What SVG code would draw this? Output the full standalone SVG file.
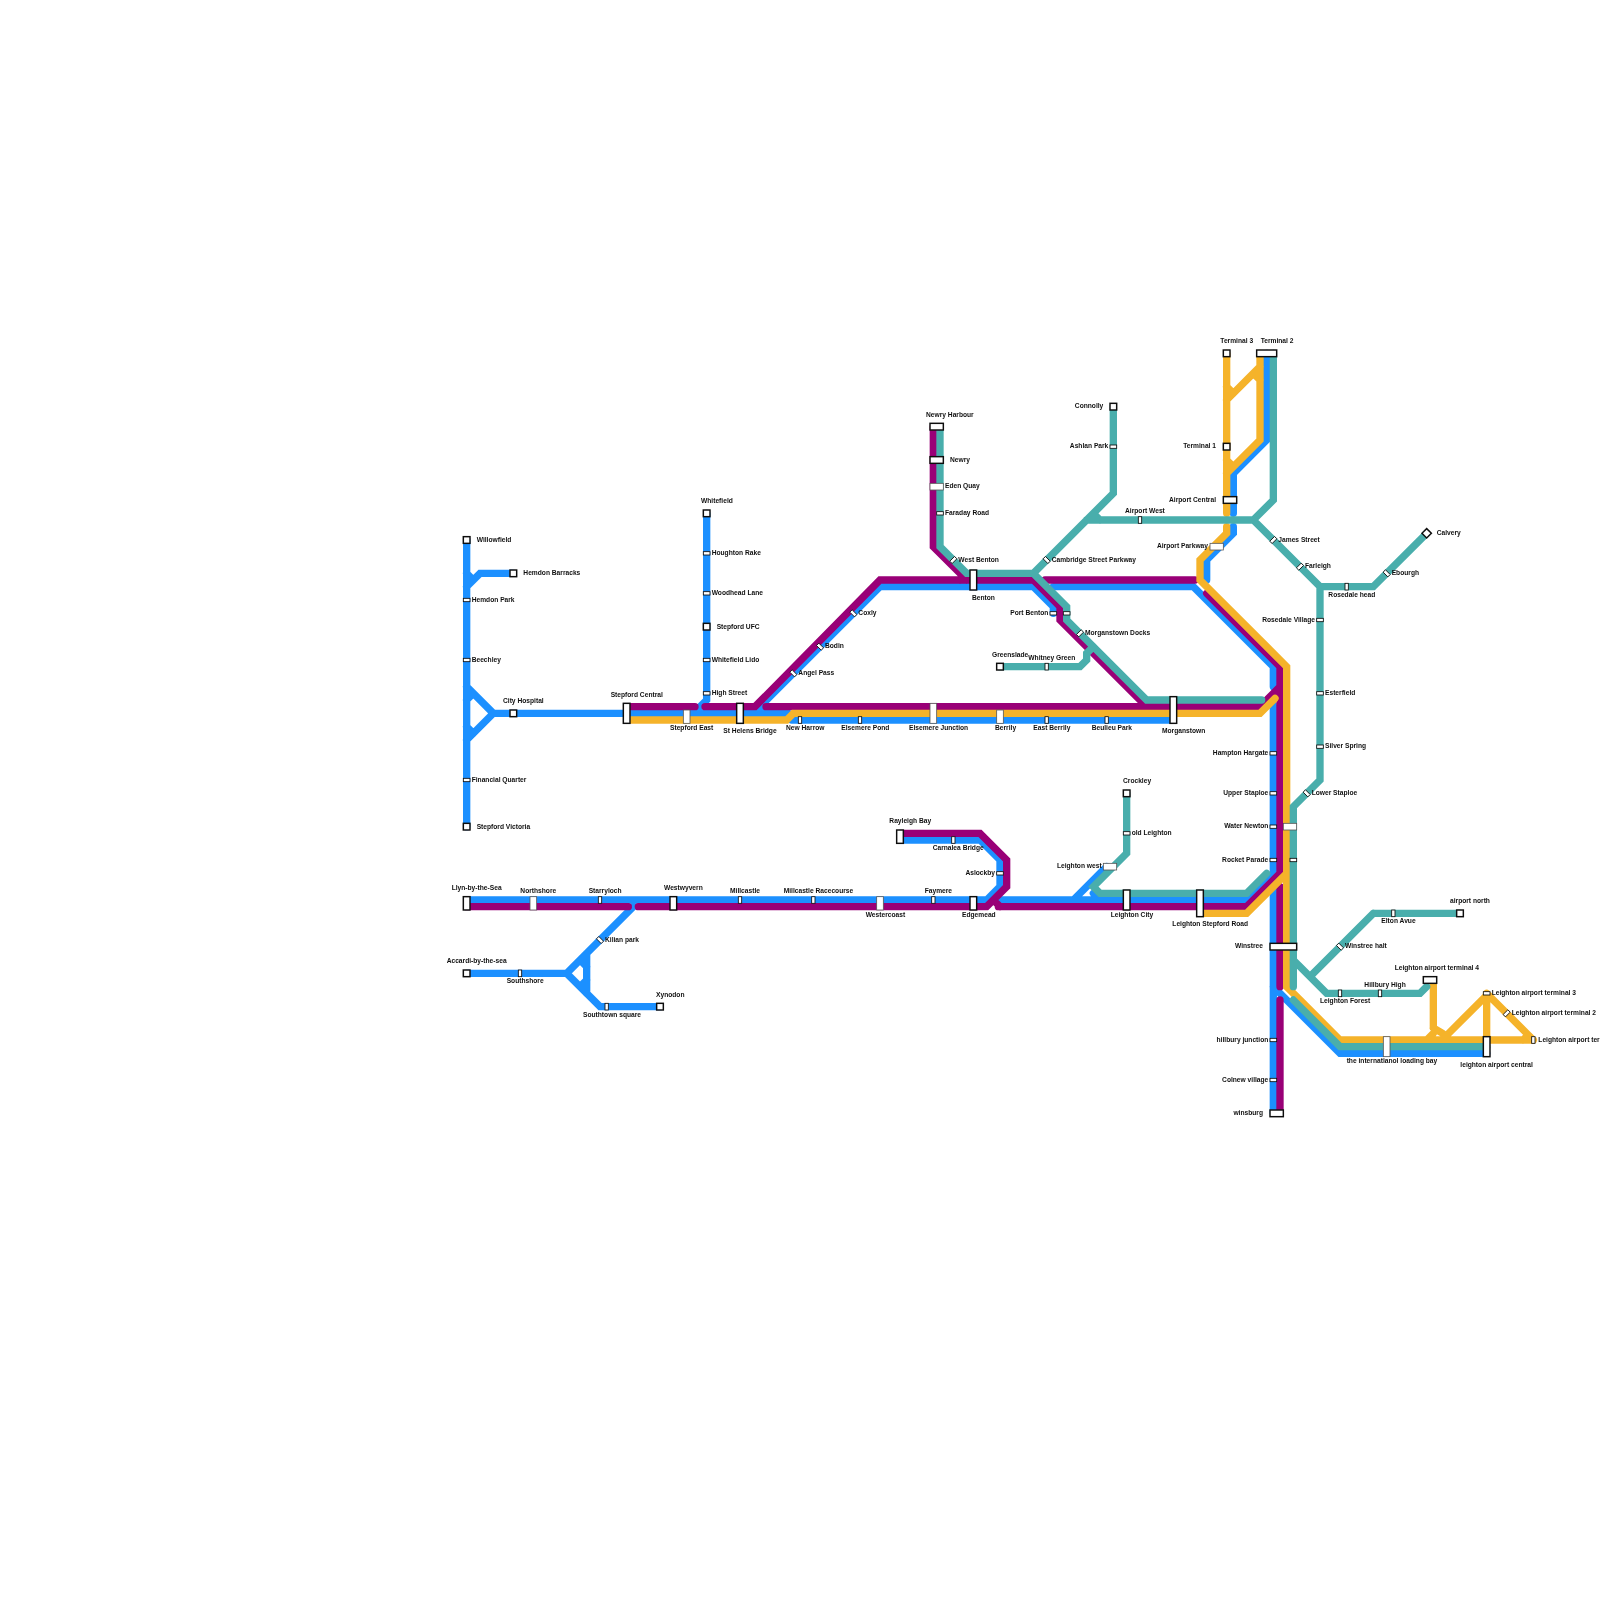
<svg xmlns="http://www.w3.org/2000/svg" width="1600" height="1600" viewBox="0 0 1600 1600">
<style>
.l{fill:none;stroke-width:1.1;stroke-linecap:round;stroke-linejoin:miter}
.b{stroke:#1e90ff}.p{stroke:#990077}.o{stroke:#f5b32b}.t{stroke:#48aeac}
rect{fill:#fff;stroke:#111;stroke-width:.22}
rect[height=".5"],rect[width=".5"]{stroke-width:.13}
rect.m{stroke:#555;stroke-width:.12}
text{font-family:"Liberation Sans",Arial,sans-serif;font-weight:bold;font-size:1px;fill:#111}
.e{text-anchor:end}
</style>
<defs><filter id="soft" filterUnits="userSpaceOnUse" x="0" y="0" width="240" height="240"><feGaussianBlur stdDeviation=".055"/></filter></defs>
<rect x="0" y="0" width="1600" height="1600" style="fill:#fff;stroke:none"/>
<g transform="scale(6.66667)" filter="url(#soft)">
<g id="connectors">
<path class="l b" d="M70 81V124M70 88L72 86H77M70 86L71 87M70 103L74 107L70 111M70 105L71 104M70 109L71 110M74 107H118.25M106 77V105L104 107M132 88L113 107M114 106L115 107M132 88H155L158 91V92M118.75 108H176M158 88H179L191 100V103M191 105.75V167M191 148L201 158H223M185 77V71L190 66V53M185 79V80L181 84V87M70 135H95M95 136L85 146H70M85 146L90 151H99M88 143V149M87 144L88 145M87 148L88 147M95 135H148L150 133V129L147 126H135M150 135H187L191 131M161 135L166 130M164 134L165 135"/>
<path class="l p" d="M94 106H104.25M105.75 106H113.25L132 87H155L159 91V93L172 106M114.9 106H189L192 103M140 64V82L145 87M144 87L145 86M156.75 87H179.25M181 89L192 100V131M192 133V148M192 150V167M70 136H94.25M95.75 136H148L151 133V129L147 125H135M149.75 136H187L192 131M149 135L150 136"/>
<path class="l o" d="M184 53V77M189 53V66L184 71M189 55L184 60M184 58L185 59M184 69L185 70M188 56L189 57M184 79V80L180 84V87L193 100V148L201 156H230M94 108H118L119 107H189L191.25 104.75M180 137H187L193 131M215 147V154M215 154.2L216.4 155M216.3 156L223 149.3M223 149V156M223 149L230 156M214 156L215 155M229.2 155.25L228.45 156"/>
<path class="l t" d="M141 64V82L145 86H155L160 91V93L172 105H189.25M167 61V74L155 86M163 78H188M164 77L165 78M191 53V75L188 78L198 88H206L214 80M198 88V117L194 121V148M194 150L201 157H223M194 144L199 149H213L214 148M206 137L196.5 146.5M206 137H219M150 100H162L163 99V98L164 97M169 119V128L164 133L165 134H187L190 131"/>
</g>
<g id="n-willowfield"><rect x="69.5" y="80.5" width="1" height="1"/><text x="71.5" y="81.3">Willowfield</text></g>
<g id="n-hemdon-barracks"><rect x="76.5" y="85.5" width="1" height="1"/><text x="78.5" y="86.3">Hemdon Barracks</text></g>
<g id="n-hemdon-park"><rect x="69.5" y="89.75" width="1" height=".5"/><text x="70.75" y="90.3">Hemdon Park</text></g>
<g id="n-beechley"><rect x="69.5" y="98.75" width="1" height=".5"/><text x="70.75" y="99.3">Beechley</text></g>
<g id="n-city-hospital"><rect x="76.5" y="106.5" width="1" height="1"/><text x="75.45" y="105.45">City Hospital</text></g>
<g id="n-financial-quarter"><rect x="69.5" y="116.75" width="1" height=".5"/><text x="70.75" y="117.3">Financial Quarter</text></g>
<g id="n-stepford-victoria"><rect x="69.5" y="123.5" width="1" height="1"/><text x="71.5" y="124.3">Stepford Victoria</text></g>
<g id="n-whitefield"><rect x="105.5" y="76.5" width="1" height="1"/><text x="105.15" y="75.45">Whitefield</text></g>
<g id="n-houghton-rake"><rect x="105.5" y="82.75" width="1" height=".5"/><text x="106.75" y="83.3">Houghton Rake</text></g>
<g id="n-woodhead-lane"><rect x="105.5" y="88.75" width="1" height=".5"/><text x="106.75" y="89.3">Woodhead Lane</text></g>
<g id="n-stepford-ufc"><rect x="105.5" y="93.5" width="1" height="1"/><text x="107.5" y="94.3">Stepford UFC</text></g>
<g id="n-whitefield-lido"><rect x="105.5" y="98.75" width="1" height=".5"/><text x="106.75" y="99.3">Whitefield Lido</text></g>
<g id="n-high-street"><rect x="105.5" y="103.75" width="1" height=".5"/><text x="106.75" y="104.3">High Street</text></g>
<g id="n-stepford-central"><rect x="93.5" y="105.5" width="1" height="3"/><text x="91.6" y="104.5">Stepford Central</text></g>
<g id="n-stepford-east"><rect class="m" x="102.5" y="106.5" width="1" height="2"/><text x="100.5" y="109.5">Stepford East</text></g>
<g id="n-st-helens-bridge"><rect x="110.5" y="105.5" width="1" height="3"/><text x="108.5" y="110">St Helens Bridge</text></g>
<g id="n-new-harrow"><rect x="119.75" y="107.5" width=".5" height="1"/><text x="117.9" y="109.5">New Harrow</text></g>
<g id="n-elsemere-pond"><rect x="128.75" y="107.5" width=".5" height="1"/><text x="126.2" y="109.5">Elsemere Pond</text></g>
<g id="n-elsemere-junction"><rect class="m" x="139.5" y="105.5" width="1" height="3"/><text x="136.35" y="109.5">Elsemere Junction</text></g>
<g id="n-berrily"><rect class="m" x="149.5" y="106.5" width="1" height="2"/><text x="149.25" y="109.5">Berrily</text></g>
<g id="n-east-berrily"><rect x="156.75" y="107.5" width=".5" height="1"/><text x="155" y="109.5">East Berrily</text></g>
<g id="n-beulieu-park"><rect x="165.75" y="107.5" width=".5" height="1"/><text x="163.75" y="109.5">Beulieu Park</text></g>
<g id="n-morganstown"><rect x="175.5" y="104.5" width="1" height="4"/><text x="174.3" y="110">Morganstown</text></g>
<g id="n-angel-pass"><rect x="118.5" y="100.75" width="1" height=".5" transform="rotate(45 119 101)"/><text x="119.75" y="101.25">Angel Pass</text></g>
<g id="n-bodin"><rect x="122.5" y="96.75" width="1" height=".5" transform="rotate(45 123 97)"/><text x="123.75" y="97.25">Bodin</text></g>
<g id="n-coxly"><rect x="127.5" y="91.75" width="1" height=".5" transform="rotate(45 128 92)"/><text x="128.75" y="92.25">Coxly</text></g>
<g id="n-newry-harbour"><rect x="139.5" y="63.5" width="2" height="1"/><text x="138.9" y="62.5">Newry Harbour</text></g>
<g id="n-newry"><rect x="139.5" y="68.5" width="2" height="1"/><text x="142.5" y="69.25">Newry</text></g>
<g id="n-eden-quay"><rect class="m" x="139.5" y="72.5" width="2" height="1"/><text x="141.75" y="73.25">Eden Quay</text></g>
<g id="n-faraday-road"><rect x="140.5" y="76.75" width="1" height=".5"/><text x="141.75" y="77.25">Faraday Road</text></g>
<g id="n-west-benton"><rect x="142.5" y="83.75" width="1" height=".5" transform="rotate(-45 143 84)"/><text x="143.75" y="84.25">West Benton</text></g>
<g id="n-benton"><rect x="145.5" y="85.5" width="1" height="3"/><text x="145.8" y="89.95">Benton</text></g>
<g id="n-cambridge-street-parkway"><rect x="156.5" y="83.75" width="1" height=".5" transform="rotate(45 157 84)"/><text x="157.75" y="84.25">Cambridge Street Parkway</text></g>
<g id="n-connolly"><rect x="166.5" y="60.5" width="1" height="1"/><text class="e" x="165.5" y="61.25">Connolly</text></g>
<g id="n-ashlan-park"><rect x="166.5" y="66.75" width="1" height=".5"/><text class="e" x="166.25" y="67.25">Ashlan Park</text></g>
<g id="n-airport-west"><rect x="170.75" y="77.5" width=".5" height="1"/><text x="168.75" y="77">Airport West</text></g>
<g id="n-port-benton"><rect x="157.5" y="91.75" width="1" height=".5"/><rect x="159.5" y="91.75" width="1" height=".5"/><text class="e" x="157.25" y="92.25">Port Benton</text></g>
<g id="n-morganstown-docks"><rect x="161.5" y="94.75" width="1" height=".5" transform="rotate(-45 162 95)"/><text x="162.75" y="95.25">Morganstown Docks</text></g>
<g id="n-greenslade"><rect x="149.5" y="99.5" width="1" height="1"/><text x="148.8" y="98.5">Greenslade</text></g>
<g id="n-whitney-green"><rect x="156.75" y="99.5" width=".5" height="1"/><text x="154.25" y="99">Whitney Green</text></g>
<g id="n-terminal-3"><rect x="183.5" y="52.5" width="1" height="1"/><text x="183.05" y="51.45">Terminal 3</text></g>
<g id="n-terminal-2"><rect x="188.5" y="52.5" width="3" height="1"/><text x="189.1" y="51.45">Terminal 2</text></g>
<g id="n-terminal-1"><rect x="183.5" y="66.5" width="1" height="1"/><text class="e" x="182.4" y="67.25">Terminal 1</text></g>
<g id="n-airport-central"><rect x="183.5" y="74.5" width="2" height="1"/><text class="e" x="182.4" y="75.25">Airport Central</text></g>
<g id="n-airport-parkway"><rect class="m" x="181.5" y="81.5" width="2" height="1"/><text class="e" x="181.2" y="82.25">Airport Parkway</text></g>
<g id="n-james-street"><rect x="190.5" y="80.75" width="1" height=".5" transform="rotate(-45 191 81)"/><text x="191.75" y="81.25">James Street</text></g>
<g id="n-farleigh"><rect x="194.5" y="84.75" width="1" height=".5" transform="rotate(-45 195 85)"/><text x="195.75" y="85.25">Farleigh</text></g>
<g id="n-calvery"><rect x="213.5" y="79.5" width="1" height="1" transform="rotate(45 214 80)"/><text x="215.5" y="80.25">Calvery</text></g>
<g id="n-ebourgh"><rect x="207.5" y="85.75" width="1" height=".5" transform="rotate(45 208 86)"/><text x="208.75" y="86.25">Ebourgh</text></g>
<g id="n-rosedale-head"><rect x="201.75" y="87.5" width=".5" height="1"/><text x="199.25" y="89.5">Rosedale head</text></g>
<g id="n-rosedale-village"><rect x="197.5" y="92.75" width="1" height=".5"/><text class="e" x="197.25" y="93.25">Rosedale Village</text></g>
<g id="n-esterfield"><rect x="197.5" y="103.75" width="1" height=".5"/><text x="198.75" y="104.25">Esterfield</text></g>
<g id="n-silver-spring"><rect x="197.5" y="111.75" width="1" height=".5"/><text x="198.75" y="112.25">Silver Spring</text></g>
<g id="n-hampton-hargate"><rect x="190.5" y="112.75" width="1" height=".5"/><text class="e" x="190.25" y="113.25">Hampton Hargate</text></g>
<g id="n-upper-staploe"><rect x="190.5" y="118.75" width="1" height=".5"/><text class="e" x="190.25" y="119.25">Upper Staploe</text></g>
<g id="n-lower-staploe"><rect x="195.5" y="118.75" width="1" height=".5" transform="rotate(45 196 119)"/><text x="196.75" y="119.25">Lower Staploe</text></g>
<g id="n-water-newton"><rect x="190.5" y="123.75" width="1" height=".5"/><rect class="m" x="192.5" y="123.5" width="2" height="1"/><text class="e" x="190.25" y="124.25">Water Newton</text></g>
<g id="n-rocket-parade"><rect x="190.5" y="128.75" width="1" height=".5"/><rect x="193.5" y="128.75" width="1" height=".5"/><text class="e" x="190.25" y="129.25">Rocket Parade</text></g>
<g id="n-winstree"><rect x="190.5" y="141.5" width="4" height="1"/><text class="e" x="189.45" y="142.2">Winstree</text></g>
<g id="n-winstree-halt"><rect x="200.5" y="141.75" width="1" height=".5" transform="rotate(45 201 142)"/><text x="201.75" y="142.25">Winstree halt</text></g>
<g id="n-elton-avue"><rect x="208.75" y="136.5" width=".5" height="1"/><text x="207.2" y="138.5">Elton Avue</text></g>
<g id="n-airport-north"><rect x="218.5" y="136.5" width="1" height="1"/><text x="217.5" y="135.5">airport north</text></g>
<g id="n-leighton-airport-terminal-4"><rect x="213.5" y="146.5" width="2" height="1"/><text x="209.2" y="145.5">Leighton airport terminal 4</text></g>
<g id="n-hillbury-high"><rect x="206.75" y="148.5" width=".5" height="1"/><text x="204.65" y="148">Hillbury High</text></g>
<g id="n-leighton-forest"><rect x="200.75" y="148.5" width=".5" height="1"/><text x="198" y="150.5">Leighton Forest</text></g>
<g id="n-leighton-airport-terminal-3"><rect x="222.5" y="148.75" width="1" height=".5"/><text x="223.75" y="149.25">Leighton airport terminal 3</text></g>
<g id="n-leighton-airport-terminal-2"><rect x="225.5" y="151.75" width="1" height=".5" transform="rotate(-45 226 152)"/><text x="226.75" y="152.25">Leighton airport terminal 2</text></g>
<g id="n-leighton-airport-terminal-1"><rect x="229.75" y="155.5" width=".5" height="1"/><text x="230.75" y="156.25">Leighton airport ter</text></g>
<g id="n-international-loading-bay"><rect class="m" x="207.5" y="155.5" width="1" height="3"/><text x="202" y="159.5">the internatianol loading bay</text></g>
<g id="n-leighton-airport-central"><rect x="222.5" y="155.5" width="1" height="3"/><text x="219.05" y="160">leighton airport central</text></g>
<g id="n-hillbury-junction"><rect x="190.5" y="155.75" width="1" height=".5"/><text class="e" x="190.25" y="156.25">hillbury junction</text></g>
<g id="n-colnew-village"><rect x="190.5" y="161.75" width="1" height=".5"/><text class="e" x="190.25" y="162.25">Colnew village</text></g>
<g id="n-winsburg"><rect x="190.5" y="166.5" width="2" height="1"/><text class="e" x="189.45" y="167.25">winsburg</text></g>
<g id="n-leighton-stepford-road"><rect x="179.5" y="133.5" width="1" height="4"/><text x="175.85" y="138.95">Leighton Stepford Road</text></g>
<g id="n-leighton-city"><rect x="168.5" y="133.5" width="1" height="3"/><text x="166.6" y="137.5">Leighton City</text></g>
<g id="n-leighton-west"><rect class="m" x="165.5" y="129.5" width="2" height="1"/><text class="e" x="165.25" y="130.25">Leighton west</text></g>
<g id="n-old-leighton"><rect x="168.5" y="124.75" width="1" height=".5"/><text x="169.75" y="125.25">old Leighton</text></g>
<g id="n-crockley"><rect x="168.5" y="118.5" width="1" height="1"/><text x="168.45" y="117.5">Crockley</text></g>
<g id="n-llyn-by-the-sea"><rect x="69.5" y="134.5" width="1" height="2"/><text x="67.75" y="133.5">Llyn-by-the-Sea</text></g>
<g id="n-northshore"><rect class="m" x="79.5" y="134.5" width="1" height="2"/><text x="78.05" y="134">Northshore</text></g>
<g id="n-starryloch"><rect x="89.75" y="134.5" width=".5" height="1"/><text x="88.3" y="134">Starryloch</text></g>
<g id="n-westwyvern"><rect x="100.5" y="134.5" width="1" height="2"/><text x="99.6" y="133.5">Westwyvern</text></g>
<g id="n-millcastle"><rect x="110.75" y="134.5" width=".5" height="1"/><text x="109.5" y="134">Millcastle</text></g>
<g id="n-millcastle-racecourse"><rect x="121.75" y="134.5" width=".5" height="1"/><text x="117.55" y="134">Millcastle Racecourse</text></g>
<g id="n-westercoast"><rect class="m" x="131.5" y="134.5" width="1" height="2"/><text x="129.85" y="137.5">Westercoast</text></g>
<g id="n-faymere"><rect x="139.75" y="134.5" width=".5" height="1"/><text x="138.7" y="134">Faymere</text></g>
<g id="n-edgemead"><rect x="145.5" y="134.5" width="1" height="2"/><text x="144.3" y="137.5">Edgemead</text></g>
<g id="n-rayleigh-bay"><rect x="134.5" y="124.5" width="1" height="2"/><text x="133.4" y="123.5">Rayleigh Bay</text></g>
<g id="n-carnalea-bridge"><rect x="142.75" y="125.5" width=".5" height="1"/><text x="139.9" y="127.5">Carnalea Bridge</text></g>
<g id="n-aslockby"><rect x="149.5" y="130.75" width="1" height=".5"/><text class="e" x="149.25" y="131.25">Aslockby</text></g>
<g id="n-kilian-park"><rect x="89.5" y="140.75" width="1" height=".5" transform="rotate(45 90 141)"/><text x="90.75" y="141.25">Kilian park</text></g>
<g id="n-accardi-by-the-sea"><rect x="69.5" y="145.5" width="1" height="1"/><text x="67" y="144.5">Accardi-by-the-sea</text></g>
<g id="n-southshore"><rect x="77.75" y="145.5" width=".5" height="1"/><text x="76" y="147.5">Southshore</text></g>
<g id="n-southtown-square"><rect x="90.75" y="150.5" width=".5" height="1"/><text x="87.45" y="152.5">Southtown square</text></g>
<g id="n-xynodon"><rect x="98.5" y="150.5" width="1" height="1"/><text x="98.4" y="149.5">Xynodon</text></g>
</g>
</svg>
